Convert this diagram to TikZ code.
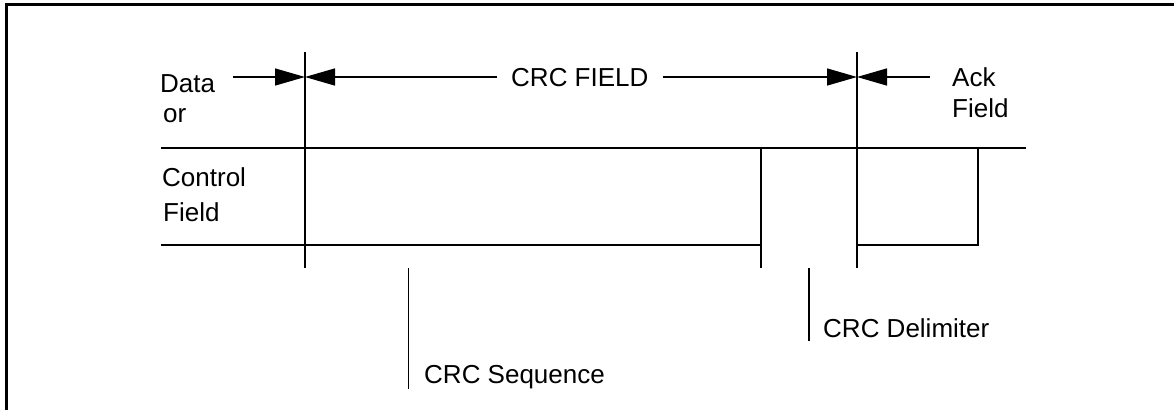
\documentclass[tikz,border=0pt]{standalone}
\usepackage{fontspec}
\setmainfont{Liberation Sans}
\usetikzlibrary{arrows.meta}
\begin{document}
\begin{tikzpicture}[x=1pt,y=-1pt,
  thin line/.style={line width=1.4pt,line cap=butt},
  dimarrow/.style={thin line,-{Triangle[length=30pt,width=17pt]}},
  lbl/.style={anchor=base west,inner sep=0pt,font=\fontsize{26}{30}\selectfont},
  frameline/.style={line width=3pt}]
\useasboundingbox (0,0) rectangle (1174,410);
% frame
\draw[frameline] (6.5,410) -- (6.5,4.5) -- (1174,4.5);
% key coordinates
\coordinate (v1t) at (305,52);
\coordinate (v1b) at (305,268);
\coordinate (v2t) at (857,52);
\coordinate (v2b) at (857,268);
\coordinate (v3t) at (761,148);
\coordinate (v3b) at (761,268);
\coordinate (ackt) at (978,148);
\coordinate (ackb) at (978,245);
\coordinate (topl) at (161,148);
\coordinate (topr) at (1026,148);
\coordinate (botl) at (161,245);
\coordinate (botm) at (761,245);
\coordinate (botr) at (857,245);
\coordinate (aL) at (233,77);
\coordinate (aR) at (930,77);
\coordinate (tip1) at (305,77);
\coordinate (tip2) at (857,77);
\coordinate (seqt) at (408.5,268);
\coordinate (seqb) at (408.5,389);
\coordinate (delt) at (809,268);
\coordinate (delb) at (809,341);
% texts
\node[lbl] (data) at (160,92) {Data};
\node[lbl] (or) at (163,122) {or};
\node[lbl] (control) at (162,186) {Control};
\node[lbl] (field1) at (163,221) {Field};
\node[lbl] (ack) at (952,86) {Ack};
\node[lbl] (field2) at (952,117) {Field};
\node[lbl,inner xsep=14pt] (crc) at (497,86) {CRC FIELD};
\node[lbl] (seq) at (424,383) {CRC Sequence};
\node[lbl] (del) at (823,337) {CRC Delimiter};
% lines
\draw[thin line] (v1t) -- (v1b);
\draw[thin line] (v2t) -- (v2b);
\draw[thin line] (v3t) -- (v3b);
\draw[thin line] (topl) -- (topr);
\draw[thin line] (botl) -- (botm);
\draw[thin line] (botr) -- (ackb) -- (ackt);
\draw[thin line] (seqt) -- (seqb);
\draw[thin line] (delt) -- (delb);
% dimension arrows
\draw[dimarrow] (aL) -- (tip1);
\draw[dimarrow] (crc.west |- tip1) -- (tip1);
\draw[dimarrow] (crc.east |- tip2) -- (tip2);
\draw[dimarrow] (aR) -- (tip2);
\end{tikzpicture}
\end{document}
